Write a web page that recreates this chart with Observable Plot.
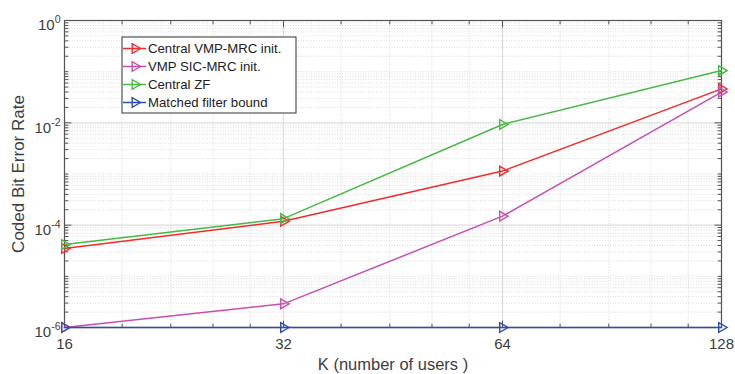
<!DOCTYPE html>
<html>
<head>
<meta charset="utf-8">
<script src="https://cdn.jsdelivr.net/npm/d3@7"></script>
<script src="https://cdn.jsdelivr.net/npm/@observablehq/plot@0.6"></script>
<style>
  html, body { margin: 0; padding: 0; background: #fff; }
  #chart { width: 735px; height: 374px; }
</style>
</head>
<body>
<div id="chart"></div>
<script>
// Number of users K
const users = [16, 32, 64, 128];

// Coded bit error rate per receiver
const seriesNames = [
  "Central VMP-MRC init.",
  "VMP SIC-MRC init.",
  "Central ZF",
  "Matched filter bound"
];
const seriesColors = ["#f42a2a", "#c94eb1", "#47b944", "#2d4ea8"];
const berVmpMrc = [3.5e-5, 1.19e-4, 1.14e-3, 4.6e-2];
const berVmpSic = [1.0e-6, 2.9e-6, 1.5e-4, 4.0e-2];
const berZf     = [4.2e-5, 1.34e-4, 9.3e-3, 1.05e-1];
const berMfb    = [1.0e-6, 1.0e-6, 1.0e-6, 1.0e-6];

// Axis ticks
const xTicks = [16, 32, 64, 128];
const yTicks = [1e-6, 1e-4, 1e-2, 1];
const xLabel = "K (number of users )";
const yLabel = "Coded Bit Error Rate";

const allSeries = [berVmpMrc, berVmpSic, berZf, berMfb];
const rows = allSeries.flatMap((vals, i) =>
  vals.map((v, j) => ({series: seriesNames[i], K: users[j], ber: v}))
);

// Minor ticks: five linear steps within each octave, and 1..9 within each decade
const xMinor = xTicks.slice(0, -1).flatMap(a => [1.2, 1.4, 1.6, 1.8].map(f => a * f));
const yMinor = [];
for (let e = -6; e < 0; e++) {
  for (let m = 1; m <= 9; m++) {
    const v = m * Math.pow(10, e);
    if (!(m === 1 && e % 2 === 0)) yMinor.push(v);
  }
}

const fontFamily = "'Liberation Sans', Arial, Helvetica, sans-serif";
const frameColor = "#555";
const textColor = "#3d3d3d";
const tickShape = {draw(ctx, l) { ctx.moveTo(0, 0); ctx.lineTo(0, -l); }};
const tick = (data, dim, anchor, rot, len) =>
  (dim === "y" ? Plot.vectorY : Plot.vectorX)(data, {
    frameAnchor: anchor, rotate: rot, length: len, anchor: "start",
    shape: tickShape, stroke: frameColor, strokeWidth: 1
  });

const chart = Plot.plot({
  width: 735,
  height: 374,
  marginLeft: 64,
  marginRight: 14,
  marginTop: 20,
  marginBottom: 47,
  style: {fontFamily, color: textColor, background: "#fff"},
  x: {type: "log", base: 2, domain: [16, 128]},
  y: {type: "log", domain: [1e-6, 1]},
  color: {domain: seriesNames, range: seriesColors},
  marks: [
    // grid
    Plot.ruleY(yMinor, {stroke: "#d2d2d2", strokeWidth: 0.8, strokeDasharray: "1,1.6"}),
    Plot.ruleX(xMinor, {stroke: "#d2d2d2", strokeWidth: 0.8, strokeDasharray: "1,1.6"}),
    Plot.ruleY(yTicks, {stroke: "#dcdcdc", strokeWidth: 1.2}),
    Plot.ruleX(xTicks, {stroke: "#dcdcdc", strokeWidth: 1.2}),
    // box and inward ticks
    Plot.frame({stroke: frameColor, strokeWidth: 1.2}),
    tick(yMinor, "y", "left", 90, 3.5),
    tick(yTicks, "y", "left", 90, 6.5),
    tick(yMinor, "y", "right", -90, 3.5),
    tick(yTicks, "y", "right", -90, 6.5),
    tick(xMinor, "x", "bottom", 0, 3.5),
    tick(xTicks, "x", "bottom", 0, 6.5),
    tick(xMinor, "x", "top", 180, 3.5),
    tick(xTicks, "x", "top", 180, 6.5),
    // tick labels
    Plot.axisY(yTicks, {
      anchor: "left", tickSize: 0, tickPadding: 4, fontSize: 15, dy: 5, label: null,
      tickFormat: d => String(Math.round(Math.log10(d)))
    }),
    Plot.axisX(xTicks, {
      anchor: "bottom", tickSize: 0, tickPadding: 11, fontSize: 15, label: null,
      tickFormat: d => String(d)
    }),
    // axis titles
    Plot.text([xLabel], {
      frameAnchor: "bottom", dy: 37, fontSize: 16.5, fill: textColor,
      textAnchor: "middle", lineAnchor: "middle"
    }),
    Plot.text([yLabel], {
      frameAnchor: "left", dx: -46, rotate: -90, fontSize: 17, fill: textColor,
      textAnchor: "middle", lineAnchor: "middle"
    }),
    // data
    Plot.line(rows, {x: "K", y: "ber", z: "series", stroke: "series", strokeWidth: 1.5}),
    Plot.dot(rows, {
      x: "K", y: "ber", stroke: "series", symbol: "triangle", rotate: 90,
      r: 3.6, strokeWidth: 1.4, fill: "none"
    })
  ]
});

document.getElementById("chart").appendChild(chart);

// Superscript exponents on the y tick labels: 10^e
const svgNS = "http://www.w3.org/2000/svg";
chart.querySelectorAll('g[aria-label="y-axis tick label"] text').forEach(t => {
  const e = t.textContent;
  t.textContent = "10";
  const sup = document.createElementNS(svgNS, "tspan");
  sup.setAttribute("dy", "-7");
  sup.setAttribute("font-size", "10.5");
  sup.textContent = e;
  t.appendChild(sup);
});

// Legend box
const svg = d3.select(chart);
const lg = svg.append("g").attr("class", "legend")
  .attr("font-family", fontFamily).attr("text-anchor", "start");
lg.append("rect")
  .attr("x", 122).attr("y", 37).attr("width", 174).attr("height", 76)
  .attr("fill", "#fff").attr("stroke", "#333").attr("stroke-width", 1);
const tri = d3.symbol(d3.symbolTriangle, Math.PI * 3.6 * 3.6)();
seriesNames.forEach((name, i) => {
  const y = 48.5 + i * 18;
  const c = seriesColors[i];
  lg.append("line").attr("x1", 123).attr("x2", 146).attr("y1", y).attr("y2", y)
    .attr("stroke", c).attr("stroke-width", 1.5);
  lg.append("path").attr("d", tri)
    .attr("transform", `translate(135,${y}) rotate(90)`)
    .attr("fill", "none").attr("stroke", c).attr("stroke-width", 1.4);
  lg.append("text").attr("x", 148).attr("y", y).attr("dy", "0.35em")
    .attr("text-anchor", "start")
    .attr("font-size", 13.2).attr("fill", "#222").text(name);
});
</script>
</body>
</html>
